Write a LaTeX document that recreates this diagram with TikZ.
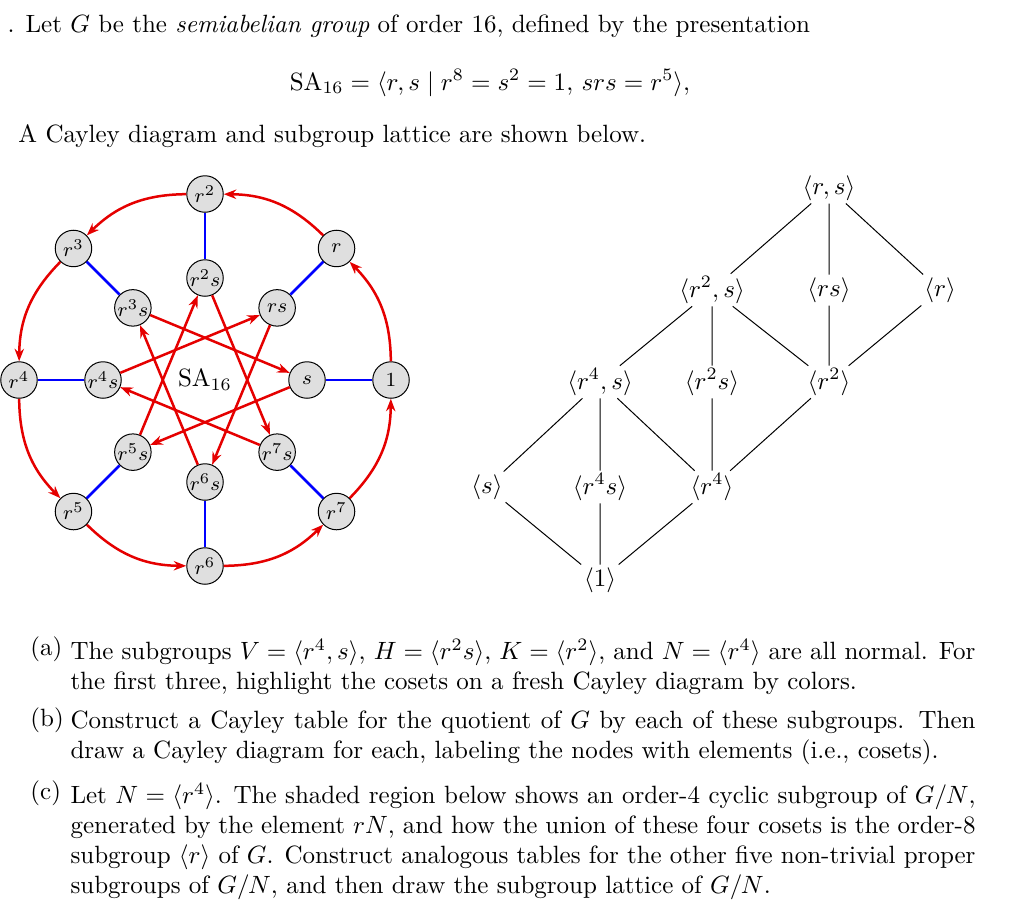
\documentclass[tikz,border=0pt]{standalone}
\usetikzlibrary{arrows.meta}
\begin{document}
\begin{tikzpicture}[x=0.4pt,y=-0.4pt,
  el/.style={circle,draw,fill=gray!25,minimum size=14.6pt,inner sep=0pt,font=\footnotesize},
  rarr/.style={red!90!black,line width=1pt,-{Stealth[length=5pt]}},
  blu/.style={blue,line width=1pt},
  lat/.style={inner sep=1pt},
  txt/.style={anchor=base west,inner sep=0pt}]
\useasboundingbox (0,0) rectangle (1024,908);
\node[txt] (t1) at (7,32) {. Let $G$ be the \emph{semiabelian group} of order 16, defined by the presentation};
\node[anchor=base,inner sep=0pt] (t2) at (490,90) {$\mathrm{SA}_{16}=\langle r,s\mid r^8=s^2=1,\,srs=r^5\rangle,$};
\node[txt] (t3) at (18,142) {A Cayley diagram and subgroup lattice are shown below.};
% Cayley diagram
\foreach \k/\lab in {0/1,1/r,2/r^2,3/r^3,4/r^4,5/r^5,6/r^6,7/r^7}{
  \node[el] (o\k) at ({205+186*cos(45*\k)},{380-186*sin(45*\k)}) {$\lab$};}
\foreach \k/\lab in {0/s,1/rs,2/r^2s,3/r^3s,4/r^4s,5/r^5s,6/r^6s,7/r^7s}{
  \node[el] (i\k) at ({205+102*cos(45*\k)},{380-102*sin(45*\k)}) {$\lab$};}
\node (c) at (205,380) {$\mathrm{SA}_{16}$};
\foreach \k in {0,...,7}{\draw[blu] (o\k) -- (i\k);}
\foreach \k [evaluate=\k as \n using {int(mod(\k+1,8))}] in {0,...,7}{
  \draw[rarr] (o\k) to[bend right=22] (o\n);}
\foreach \k [evaluate=\k as \n using {int(mod(\k+5,8))}] in {0,...,7}{
  \draw[rarr] (i\k) -- (i\n);}
% lattice
\node[lat] (G) at (829,188) {$\langle r,s\rangle$};
\node[lat] (A) at (712,290) {$\langle r^2,s\rangle$};
\node[lat] (B) at (829,290) {$\langle rs\rangle$};
\node[lat] (C) at (940,290) {$\langle r\rangle$};
\node[lat] (D) at (600,382) {$\langle r^4,s\rangle$};
\node[lat] (E) at (712,382) {$\langle r^2s\rangle$};
\node[lat] (F) at (829,382) {$\langle r^2\rangle$};
\node[lat] (H) at (487,487) {$\langle s\rangle$};
\node[lat] (I) at (600,487) {$\langle r^4s\rangle$};
\node[lat] (J) at (712,487) {$\langle r^4\rangle$};
\node[lat] (O) at (600,580) {$\langle 1\rangle$};
\draw[thin] (G)--(A) (G)--(B) (G)--(C) (A)--(D) (A)--(E) (A)--(F) (B)--(F) (C)--(F)
  (D)--(H) (D)--(I) (D)--(J) (E)--(J) (F)--(J) (H)--(O) (I)--(O) (J)--(O);
% parts
\node[txt] (la) at (30,655) {(a)};
\node[anchor=north west,text width=362pt,align=justify,inner sep=0pt] (pa) at (70,639) {The subgroups $V=\langle r^4,s\rangle$, $H=\langle r^2s\rangle$, $K=\langle r^2\rangle$, and $N=\langle r^4\rangle$ are all normal. For the first three, highlight the cosets on a fresh Cayley diagram by colors.};
\node[txt] (lb) at (30,726) {(b)};
\node[anchor=north west,text width=362pt,align=justify,inner sep=0pt] (pb) at (70,710) {Construct a Cayley table for the quotient of $G$ by each of these subgroups. Then draw a Cayley diagram for each, labeling the nodes with elements (i.e., cosets).};
\node[txt] (lc) at (30,799) {(c)};
\node[anchor=north west,text width=362pt,align=justify,inner sep=0pt] (pc) at (70,783) {Let $N=\langle r^4\rangle$. The shaded region below shows an order-4 cyclic subgroup of $G/N$, generated by the element $rN$, and how the union of these four cosets is the order-8 subgroup $\langle r\rangle$ of $G$. Construct analogous tables for the other five non-trivial proper subgroups of $G/N$, and then draw the subgroup lattice of $G/N$.};
\end{tikzpicture}
\end{document}
